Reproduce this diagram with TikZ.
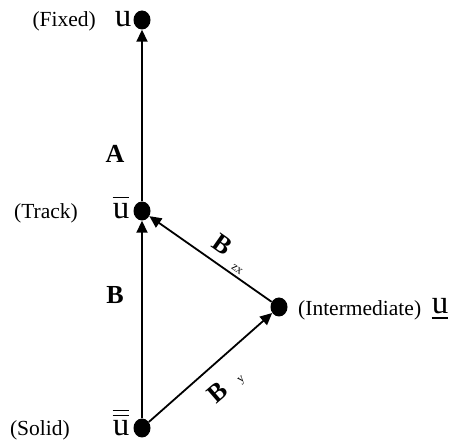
\documentclass[tikz,border=0pt]{standalone}
\usepackage{fontspec}
\setmainfont{Liberation Serif}
\usetikzlibrary{arrows.meta,shapes.geometric}
\tikzset{
  dot/.style={ellipse, fill=black, minimum width=17pt, minimum height=19pt, inner sep=0pt},
  conn/.style={line width=1.8pt, -{Triangle[length=12pt,width=11pt]}},
  lbl/.style={font=\fontsize{21.5}{22}\selectfont, inner sep=0pt, anchor=base east},
  uu/.style={font=\fontsize{33}{33}\selectfont, inner sep=0pt, anchor=base},
  bar/.style={line width=1.1pt},
  bl/.style={font=\fontsize{26}{26}\selectfont\bfseries, inner sep=0pt},
  sub/.style={font=\fontsize{12}{12}\selectfont, inner sep=0pt}
}
\begin{document}
\begin{tikzpicture}[x=1pt,y=-1pt]
\useasboundingbox (0,0) rectangle (459,441);
\node[dot] (fixed) at (142,20) {};
\node[dot] (track) at (142,211) {};
\node[dot] (inter) at (279,307) {};
\node[dot] (solid) at (142,428) {};
\draw[conn] (solid) -- (track);
\draw[conn] (track) -- (fixed);
\draw[conn] (solid) -- (inter);
\draw[conn] (inter) -- (track);
\node[lbl] (tfixed) at (96,27) {(Fixed)};
\node[uu] (ufixed) at (123,27) {u};
\node[lbl] (ttrack) at (78,219) {(Track)};
\node[uu] (utrack) at (121,219) {u};
\draw[bar] ([yshift=6pt]utrack.north west) -- ([yshift=6pt]utrack.north east);
\node[lbl] (tsolid) at (70,436) {(Solid)};
\node[uu] (usolid) at (121,436) {u};
\draw[bar] ([yshift=5pt]usolid.north west) -- ([yshift=5pt]usolid.north east);
\draw[bar] ([yshift=10pt]usolid.north west) -- ([yshift=10pt]usolid.north east);
\node[lbl, anchor=base west] (tinter) at (298,316) {(Intermediate)};
\node[uu] (uinter) at (440,314) {u};
\draw[line width=1.6pt] ([yshift=-4pt]uinter.base west) -- ([yshift=-4pt]uinter.base east);
\node[bl] (la) at (115,154) {A};
\node[bl] (lb) at (115,295) {B};
\node[bl, rotate=-35] (lbzx) at (222,245) {B};
\node[sub, rotate=-35] (szx) at (237,269) {zx};
\node[bl, rotate=41] (lby) at (217,392) {B};
\node[sub, rotate=41] (sy) at (242,380) {y};
\end{tikzpicture}
\end{document}
